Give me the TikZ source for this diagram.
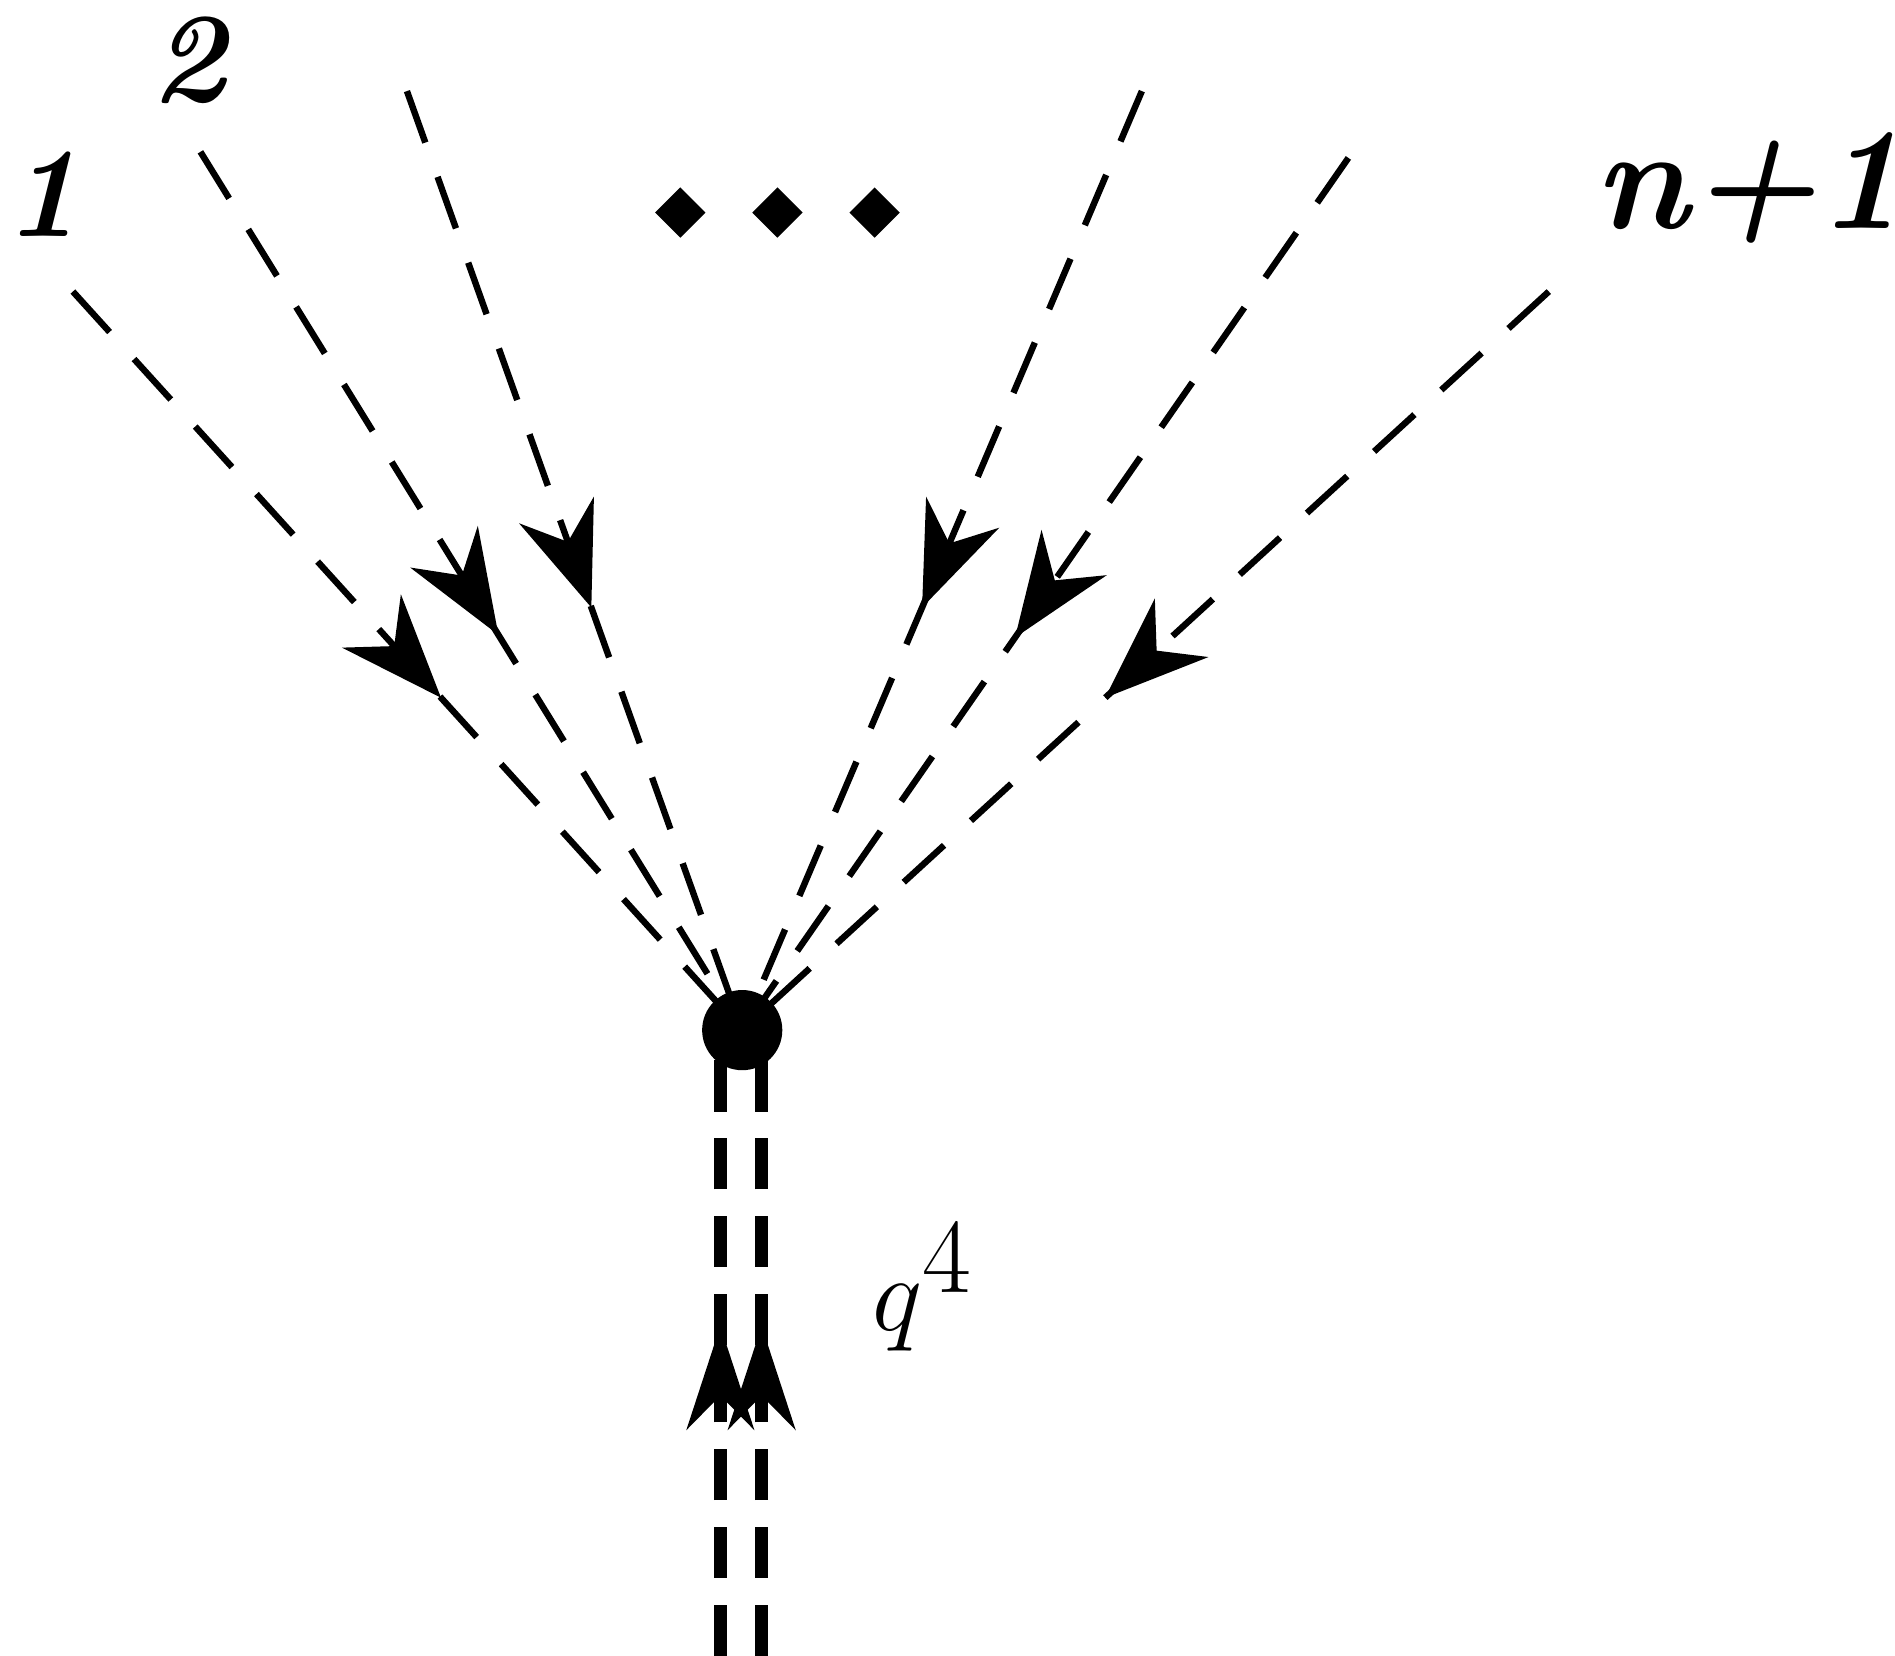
\documentclass[tikz,border=0pt]{standalone}
\usetikzlibrary{arrows.meta}
\usetikzlibrary{positioning}
\usetikzlibrary{shapes.geometric}
\usetikzlibrary{decorations.markings}
\begin{document}
\begin{tikzpicture}[
	scalar/.style={line width=1.5pt, dash pattern=on 0.45cm off 0.3cm,
		postaction={decorate, decoration={markings, mark=at position 0.55 with {\arrow{Stealth[length=0.85cm,width=0.65cm]}}}}},
	heavy/.style={line width=3.2pt, dash pattern=on 0.42cm off 0.22cm,
		postaction={decorate, decoration={markings, mark=at position 0.54 with {\arrow{Stealth[length=0.85cm,width=0.55cm]}}}}},
	lbl/.style={font=\fontsize{30}{32}\selectfont\bfseries\itshape},
	diam/.style={diamond, fill=black, inner sep=0pt, minimum size=0.42cm, shape aspect=1}]
	\useasboundingbox (0,0) rectangle (15.6,-13.63);
	\node[circle, fill=black, minimum size=0.66cm, inner sep=0pt] (v) at (6.11,-8.48) {};
	\coordinate (e1) at (0.6,-2.4);
	\coordinate (e2) at (1.65,-1.25);
	\coordinate (e3) at (3.35,-0.75);
	\coordinate (e4) at (9.4,-0.75);
	\coordinate (e5) at (11.1,-1.3);
	\coordinate (e6) at (12.75,-2.4);
	\draw[scalar] (e1) -- (v.center);
	\draw[scalar] (e2) -- (v.center);
	\draw[scalar] (e3) -- (v.center);
	\draw[scalar] (e4) -- (v.center);
	\draw[scalar] (e5) -- (v.center);
	\draw[scalar] (e6) -- (v.center);
	\coordinate (bl) at (5.93,-13.63);
	\coordinate (br) at (6.27,-13.63);
	\coordinate (tl) at (5.93,-8.6);
	\coordinate (tr) at (6.27,-8.6);
	\draw[heavy] (bl) -- (tl);
	\draw[heavy] (br) -- (tr);
	\node[lbl] (one) at (0.35,-1.6) {1};
	\node[lbl] (two) at (1.55,-0.5) {2};
	\node[lbl, font=\fontsize{34}{36}\selectfont\bfseries\itshape] (last) at (14.4,-1.55) {n+1};
	\node[font=\fontsize{50}{52}\selectfont] (q) at (7.6,-10.6) {$q^4$};
	\node[diam] (d1) at (5.6,-1.75) {};
	\node[diam] (d2) at (6.4,-1.75) {};
	\node[diam] (d3) at (7.2,-1.75) {};
\end{tikzpicture}
\end{document}
